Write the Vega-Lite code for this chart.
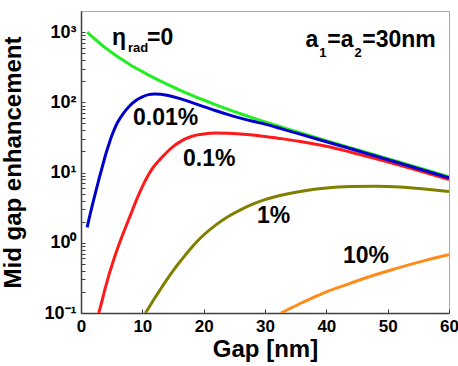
{
  "$schema": "https://vega.github.io/schema/vega-lite/v6.json",
  "width": 368,
  "height": 302,
  "autosize": {"type": "none"},
  "padding": {"left": 81, "top": 11, "right": 9, "bottom": 53},
  "background": "white",
  "config": {
    "view": {"stroke": "#a8a8a8", "strokeWidth": 1},
    "font": "Liberation Sans",
    "axis": {
      "domainColor": "#404040",
      "domainWidth": 1.5,
      "tickColor": "#404040",
      "tickWidth": 1,
      "tickSize": -4,
      "grid": false,
      "labelFont": "Liberation Sans",
      "labelFontSize": 18,
      "labelFontWeight": "bold",
      "labelColor": "black",
      "labelFlush": false,
      "labelOverlap": false,
      "titleFont": "Liberation Sans",
      "titleFontSize": 24,
      "titleFontWeight": "bold",
      "titleColor": "black"
    }
  },
  "datasets": {
    "curves": [
      {"eta": "0", "gap": 1, "value": 1000}, {"eta": "0", "gap": 2, "value": 832}, {"eta": "0", "gap": 3, "value": 700},
      {"eta": "0", "gap": 4, "value": 596}, {"eta": "0", "gap": 5, "value": 513}, {"eta": "0", "gap": 6, "value": 447},
      {"eta": "0", "gap": 7, "value": 391}, {"eta": "0", "gap": 8, "value": 344}, {"eta": "0", "gap": 10, "value": 274},
      {"eta": "0", "gap": 12, "value": 221}, {"eta": "0", "gap": 14, "value": 182}, {"eta": "0", "gap": 16, "value": 151},
      {"eta": "0", "gap": 18, "value": 127}, {"eta": "0", "gap": 20, "value": 108}, {"eta": "0", "gap": 22, "value": 92.3},
      {"eta": "0", "gap": 24, "value": 79.4}, {"eta": "0", "gap": 26, "value": 68.9}, {"eta": "0", "gap": 28, "value": 60.1},
      {"eta": "0", "gap": 30, "value": 52.7}, {"eta": "0", "gap": 33, "value": 43.7}, {"eta": "0", "gap": 36, "value": 36.4},
      {"eta": "0", "gap": 40, "value": 28.5}, {"eta": "0", "gap": 44, "value": 22.5}, {"eta": "0", "gap": 48, "value": 17.8},
      {"eta": "0", "gap": 52, "value": 14.0}, {"eta": "0", "gap": 56, "value": 11.1}, {"eta": "0", "gap": 60, "value": 8.71},

      {"eta": "0.1%", "gap": 2.9, "value": 0.1}, {"eta": "0.1%", "gap": 3.5, "value": 0.158}, {"eta": "0.1%", "gap": 4, "value": 0.234},
      {"eta": "0.1%", "gap": 4.5, "value": 0.335}, {"eta": "0.1%", "gap": 5, "value": 0.468}, {"eta": "0.1%", "gap": 6, "value": 0.851},
      {"eta": "0.1%", "gap": 7, "value": 1.45}, {"eta": "0.1%", "gap": 8, "value": 2.40}, {"eta": "0.1%", "gap": 9, "value": 3.98},
      {"eta": "0.1%", "gap": 10, "value": 6.31}, {"eta": "0.1%", "gap": 11, "value": 9.33}, {"eta": "0.1%", "gap": 12, "value": 12.6},
      {"eta": "0.1%", "gap": 13, "value": 15.8}, {"eta": "0.1%", "gap": 14, "value": 19.5}, {"eta": "0.1%", "gap": 15, "value": 23.4},
      {"eta": "0.1%", "gap": 16, "value": 26.9}, {"eta": "0.1%", "gap": 17, "value": 30.1}, {"eta": "0.1%", "gap": 18, "value": 32.6},
      {"eta": "0.1%", "gap": 19, "value": 34.4}, {"eta": "0.1%", "gap": 20, "value": 35.5}, {"eta": "0.1%", "gap": 22, "value": 36.5},
      {"eta": "0.1%", "gap": 24, "value": 36.3}, {"eta": "0.1%", "gap": 26, "value": 35.5}, {"eta": "0.1%", "gap": 28, "value": 34.3},
      {"eta": "0.1%", "gap": 30, "value": 32.7}, {"eta": "0.1%", "gap": 33, "value": 30.2}, {"eta": "0.1%", "gap": 36, "value": 27.5},
      {"eta": "0.1%", "gap": 40, "value": 23.7}, {"eta": "0.1%", "gap": 44, "value": 19.5}, {"eta": "0.1%", "gap": 48, "value": 15.8},
      {"eta": "0.1%", "gap": 52, "value": 12.7}, {"eta": "0.1%", "gap": 56, "value": 10.1}, {"eta": "0.1%", "gap": 60, "value": 7.94},

      {"eta": "1%", "gap": 10.5, "value": 0.1}, {"eta": "1%", "gap": 11, "value": 0.117}, {"eta": "1%", "gap": 12, "value": 0.162},
      {"eta": "1%", "gap": 13, "value": 0.221}, {"eta": "1%", "gap": 14, "value": 0.299}, {"eta": "1%", "gap": 15, "value": 0.398},
      {"eta": "1%", "gap": 16, "value": 0.519}, {"eta": "1%", "gap": 17, "value": 0.668}, {"eta": "1%", "gap": 18, "value": 0.851},
      {"eta": "1%", "gap": 19, "value": 1.06}, {"eta": "1%", "gap": 20, "value": 1.29}, {"eta": "1%", "gap": 22, "value": 1.80},
      {"eta": "1%", "gap": 24, "value": 2.37}, {"eta": "1%", "gap": 26, "value": 2.95}, {"eta": "1%", "gap": 28, "value": 3.55},
      {"eta": "1%", "gap": 30, "value": 4.12}, {"eta": "1%", "gap": 33, "value": 4.84}, {"eta": "1%", "gap": 36, "value": 5.43},
      {"eta": "1%", "gap": 40, "value": 6.03}, {"eta": "1%", "gap": 44, "value": 6.31}, {"eta": "1%", "gap": 48, "value": 6.38},
      {"eta": "1%", "gap": 52, "value": 6.24}, {"eta": "1%", "gap": 56, "value": 5.82}, {"eta": "1%", "gap": 60, "value": 5.37},

      {"eta": "10%", "gap": 32.6, "value": 0.1}, {"eta": "10%", "gap": 34, "value": 0.115}, {"eta": "10%", "gap": 36, "value": 0.140},
      {"eta": "10%", "gap": 38, "value": 0.168}, {"eta": "10%", "gap": 40, "value": 0.200}, {"eta": "10%", "gap": 42, "value": 0.232},
      {"eta": "10%", "gap": 44, "value": 0.267}, {"eta": "10%", "gap": 46, "value": 0.307}, {"eta": "10%", "gap": 48, "value": 0.350},
      {"eta": "10%", "gap": 50, "value": 0.396}, {"eta": "10%", "gap": 52, "value": 0.447}, {"eta": "10%", "gap": 54, "value": 0.501},
      {"eta": "10%", "gap": 56, "value": 0.557}, {"eta": "10%", "gap": 58, "value": 0.617}, {"eta": "10%", "gap": 60, "value": 0.676},

      {"eta": "0.01%", "gap": 1, "value": 1.66}, {"eta": "0.01%", "gap": 1.5, "value": 2.57}, {"eta": "0.01%", "gap": 2, "value": 3.89},
      {"eta": "0.01%", "gap": 2.5, "value": 5.75}, {"eta": "0.01%", "gap": 3, "value": 8.51}, {"eta": "0.01%", "gap": 3.5, "value": 12.3},
      {"eta": "0.01%", "gap": 4, "value": 17.8}, {"eta": "0.01%", "gap": 4.5, "value": 24.5}, {"eta": "0.01%", "gap": 5, "value": 33.1},
      {"eta": "0.01%", "gap": 5.5, "value": 42.7}, {"eta": "0.01%", "gap": 6, "value": 52.5}, {"eta": "0.01%", "gap": 7, "value": 71.6},
      {"eta": "0.01%", "gap": 8, "value": 90.2}, {"eta": "0.01%", "gap": 9, "value": 107}, {"eta": "0.01%", "gap": 10, "value": 120},
      {"eta": "0.01%", "gap": 11, "value": 129}, {"eta": "0.01%", "gap": 12, "value": 132}, {"eta": "0.01%", "gap": 13, "value": 130},
      {"eta": "0.01%", "gap": 14, "value": 126}, {"eta": "0.01%", "gap": 16, "value": 114}, {"eta": "0.01%", "gap": 18, "value": 100},
      {"eta": "0.01%", "gap": 20, "value": 87.1}, {"eta": "0.01%", "gap": 22, "value": 75.9}, {"eta": "0.01%", "gap": 24, "value": 66.8},
      {"eta": "0.01%", "gap": 26, "value": 59.6}, {"eta": "0.01%", "gap": 28, "value": 53.7}, {"eta": "0.01%", "gap": 30, "value": 49.0},
      {"eta": "0.01%", "gap": 33, "value": 41.2}, {"eta": "0.01%", "gap": 36, "value": 34.7}, {"eta": "0.01%", "gap": 40, "value": 27.5},
      {"eta": "0.01%", "gap": 44, "value": 21.8}, {"eta": "0.01%", "gap": 48, "value": 17.2}, {"eta": "0.01%", "gap": 52, "value": 13.6},
      {"eta": "0.01%", "gap": 56, "value": 10.7}, {"eta": "0.01%", "gap": 60, "value": 8.41}
    ],
    "labels": [
      {"gap": 5.06, "value": 647, "label": "η"},
      {"gap": 10.77, "value": 647, "label": "=0"},
      {"gap": 36.6, "value": 606, "label": "a"},
      {"gap": 40.15, "value": 606, "label": "=a"},
      {"gap": 45.85, "value": 606, "label": "=30nm"},
      {"gap": 8.48, "value": 47, "label": "0.01%"},
      {"gap": 16.64, "value": 12.6, "label": "0.1%"},
      {"gap": 28.7, "value": 1.89, "label": "1%"},
      {"gap": 42.7, "value": 0.509, "label": "10%"}
    ],
    "subs": [
      {"gap": 7.67, "value": 514, "label": "rad"},
      {"gap": 38.85, "value": 437, "label": "1"},
      {"gap": 44.6, "value": 437, "label": "2"}
    ]
  },
  "layer": [
    {
      "data": {"name": "curves"},
      "mark": {"type": "line", "strokeWidth": 3, "interpolate": "monotone", "clip": true},
      "encoding": {
        "x": {
          "field": "gap", "type": "quantitative",
          "scale": {"domain": [0, 60], "nice": false, "zero": false},
          "axis": {
            "title": "Gap [nm]",
            "values": [0, 5, 10, 15, 20, 25, 30, 35, 40, 45, 50, 55, 60],
            "labelExpr": "datum.value % 10 == 0 ? datum.label : ''",
            "labelFontSize": 17,
            "labelPadding": 9,
            "titlePadding": 3
          }
        },
        "y": {
          "field": "value", "type": "quantitative",
          "scale": {"type": "log", "domain": [0.1, 2000], "nice": false},
          "axis": {
            "title": "Mid gap enhancement",
            "values": [0.1, 0.2, 0.3, 0.4, 0.5, 0.6, 0.7, 0.8, 0.9, 1, 2, 3, 4, 5, 6, 7, 8, 9, 10, 20, 30, 40, 50, 60, 70, 80, 90, 100, 200, 300, 400, 500, 600, 700, 800, 900, 1000],
            "labelExpr": "datum.value == 1000 ? '10³' : datum.value == 100 ? '10²' : datum.value == 10 ? '10¹' : datum.value == 1 ? '10⁰' : datum.value == 0.1 ? '10⁻¹' : ''",
            "labelPadding": 9,
            "titlePadding": 18
          }
        },
        "color": {
          "field": "eta", "type": "nominal",
          "scale": {"domain": ["0", "0.01%", "0.1%", "1%", "10%"], "range": ["#22ee22", "#0000cc", "#ff1a1a", "#808000", "#ff8c1a"]},
          "legend": null
        }
      }
    },
    {
      "data": {"name": "labels"},
      "mark": {"type": "text", "align": "left", "baseline": "alphabetic", "fontSize": 23, "fontWeight": "bold", "font": "Liberation Sans", "color": "black"},
      "encoding": {
        "x": {"field": "gap", "type": "quantitative"},
        "y": {"field": "value", "type": "quantitative"},
        "text": {"field": "label"}
      }
    },
    {
      "data": {"name": "subs"},
      "mark": {"type": "text", "align": "left", "baseline": "alphabetic", "fontSize": 13, "fontWeight": "bold", "font": "Liberation Sans", "color": "black"},
      "encoding": {
        "x": {"field": "gap", "type": "quantitative"},
        "y": {"field": "value", "type": "quantitative"},
        "text": {"field": "label"}
      }
    }
  ]
}
